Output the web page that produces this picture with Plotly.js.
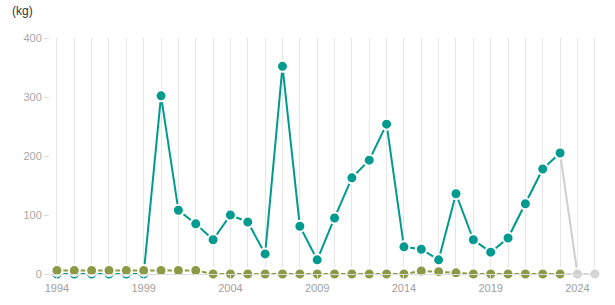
<!DOCTYPE html>
<html><head><meta charset="utf-8">
<script src="https://cdn.plot.ly/plotly-3.0.1.min.js"></script>
<style>html,body{margin:0;padding:0;background:#fff}#c{width:615px;height:305px}</style>
</head><body><div id="c"></div>
<script>
const years = [1994,1995,1996,1997,1998,1999,2000,2001,2002,2003,2004,2005,2006,2007,2008,2009,2010,2011,2012,2013,2014,2015,2016,2017,2018,2019,2020,2021,2022,2023];
const seriesA = [0,0,0,0,0,0,302,108,85,58,100,88,34,352,81,24,95,163,193,254,46,42,24,136,58,37,61,119,178,205];
const seriesB = [6,6,6,6,6,6,6,6,6,0,0,0,0,0,0,0,0,0,0,0,0,5,4,2,0,0,0,0,0,0];
const projYears = [2023,2024,2025];
const projA = [205,0,0];
const projB = [0,0,0];
const tickYears = [1994,1999,2004,2009,2014,2019,2024];

const teal = '#009a8e', olive = '#8c9a45', grey = '#cfcfcf';
const mk = (c, sizes) => ({color:c, size:sizes||11, line:{color:'#fff', width:2}});

const traces = [
  {x:projYears, y:projA, mode:'lines+markers', line:{color:grey,width:2}, marker:mk(grey,[0,11,11]), cliponaxis:false, hoverinfo:'skip'},
  {x:projYears, y:projB, mode:'lines+markers', line:{color:grey,width:2}, marker:mk(grey,[0,11,11]), cliponaxis:false, hoverinfo:'skip'},
  {x:years, y:seriesA, mode:'lines+markers', line:{color:teal,width:2}, marker:mk(teal), cliponaxis:false},
  {x:years, y:seriesB, mode:'lines+markers', line:{color:olive,width:2}, marker:mk(olive), cliponaxis:false}
];

const layout = {
  width:615, height:305, showlegend:false,
  paper_bgcolor:'#fff', plot_bgcolor:'#fff',
  margin:{l:50, r:15, t:38, b:31},
  font:{family:'Liberation Sans, Arial, sans-serif', size:11, color:'#a8a8a8'},
  xaxis:{range:[1993.6,2025.3], tickvals:tickYears, ticktext:tickYears.map(String),
    showgrid:true, gridcolor:'#e6e6e6', gridwidth:1,
    minor:{dtick:1, tick0:1994, showgrid:true, gridcolor:'#e6e6e6', gridwidth:1},
    showline:true, linecolor:'#dcdcdc', linewidth:1, zeroline:false,
    ticks:'outside', ticklen:4, tickcolor:'#dcdcdc',
    tickfont:{size:11, color:'#a0a0a0'}, fixedrange:true},
  yaxis:{range:[0,400], tickvals:[0,100,200,300,400], showgrid:false, zeroline:false,
    showline:false, ticks:'outside', ticklen:5, tickcolor:'#dcdcdc',
    tickfont:{size:11, color:'#a8a8a8'}, fixedrange:true},
  annotations:[{text:'(kg)', xref:'paper', yref:'paper', x:-0.073, y:1.114, xanchor:'left', yanchor:'middle',
    showarrow:false, font:{size:12, color:'#333'}}]
};
Plotly.newPlot('c', traces, layout, {displayModeBar:false, staticPlot:true});
</script></body></html>
